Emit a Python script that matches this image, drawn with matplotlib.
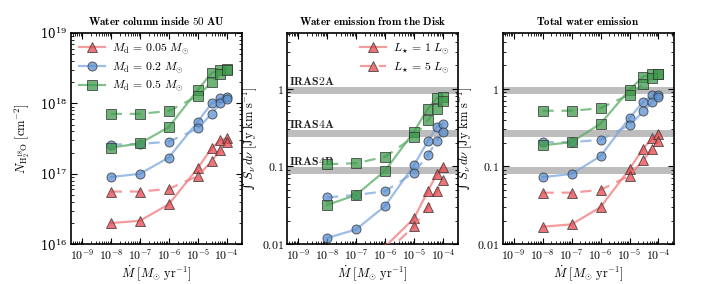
import numpy as np
import matplotlib
matplotlib.use("Agg")
import matplotlib.pyplot as plt
from matplotlib.ticker import LogLocator, NullFormatter, FixedLocator, FixedFormatter

plt.rcParams['mathtext.fontset'] = 'cm'
plt.rcParams['font.family'] = ['DejaVu Serif']

nan = np.nan
mdot = [1e-8, 1e-7, 1e-6, 1e-5, 3e-5, 6e-5, 1e-4]

# Panel 1: water column (cm^-2); solid = L*=1, dashed = L*=5
col_red_L1 = [2.0e16, 2.15e16, 3.7e16, 1.2e17, 2.3e17, 3.0e17, 3.2e17]
col_red_L5 = [5.6e16, 5.6e16, 6.1e16, 0.93e17, 1.5e17, 2.2e17, 2.8e17]
col_blue_L1 = [9.0e16, 1.0e17, 1.7e17, 5.5e17, 1.0e18, 1.18e18, 1.25e18]
col_blue_L5 = [2.6e17, 2.65e17, 2.86e17, 4.4e17, 7.1e17, 1.0e18, 1.17e18]
col_green_L1 = [2.35e17, 2.7e17, 4.6e17, 1.55e18, 2.7e18, 3.0e18, 3.1e18]
col_green_L5 = [7.1e17, 7.1e17, 7.8e17, 1.27e18, 2.0e18, 2.6e18, 3.0e18]

# Panel 2: disk emission (Jy km/s)
disk_red_L1 = [nan, nan, 0.0093, 0.0215, 0.048, 0.079, 0.099]
disk_red_L5 = [nan, nan, 0.0076, 0.017, 0.030, 0.048, 0.066]
disk_blue_L1 = [0.012, 0.0155, 0.031, 0.104, 0.21, 0.32, 0.355]
disk_blue_L5 = [0.040, 0.043, 0.048, 0.083, 0.14, 0.21, 0.28]
disk_green_L1 = [0.032, 0.043, 0.088, 0.28, 0.55, 0.75, 0.79]
disk_green_L5 = [0.107, 0.11, 0.133, 0.24, 0.39, 0.55, 0.69]

# Panel 3: total emission (Jy km/s)
tot_red_L1 = [0.0168, 0.018, 0.030, 0.093, 0.17, 0.23, 0.26]
tot_red_L5 = [0.046, 0.046, 0.050, 0.076, 0.12, 0.17, 0.21]
tot_blue_L1 = [0.073, 0.080, 0.136, 0.42, 0.68, 0.82, 0.83]
tot_blue_L5 = [0.205, 0.205, 0.22, 0.34, 0.51, 0.67, 0.78]
tot_green_L1 = [0.187, 0.205, 0.355, 0.97, 1.43, 1.52, 1.55]
tot_green_L5 = [0.52, 0.52, 0.56, 0.84, 1.14, 1.38, 1.52]

obs_names = ['IRAS2A', 'IRAS4A', 'IRAS4B']
obs_values = [0.97, 0.268, 0.089]

disk_labels = [r'$M_{\rm d}\,=\,0.05\ M_{\odot}$', r'$M_{\rm d}\,=\,0.2\ M_{\odot}$', r'$M_{\rm d}\,=\,0.5\ M_{\odot}$']
lum_labels = [r'$L_{\star}\,=\,1\ L_{\odot}$', r'$L_{\star}\,=\,5\ L_{\odot}$']
titles = [r'$\mathbf{Water\ column\ inside\ 50\ AU}$',
          r'$\mathbf{Water\ emission\ from\ the\ Disk}$',
          r'$\mathbf{Total\ water\ emission}$']

styles = [
    dict(marker='^', mfc='#e8464b', line='#f27a7c'),
    dict(marker='o', mfc='#5b8fd0', line='#7ea7dd'),
    dict(marker='s', mfc='#3f9a4c', line='#5aad66'),
]

fig = plt.figure(figsize=(7.09, 2.84), dpi=100)
W = 0.241
B, H = 0.14, 0.744
axes = [fig.add_axes([0.100, B, W, H]),
        fig.add_axes([0.405, B, W, H]),
        fig.add_axes([0.709, B, W, H])]

panels = [
    [(col_red_L1, col_red_L5), (col_blue_L1, col_blue_L5), (col_green_L1, col_green_L5)],
    [(disk_red_L1, disk_red_L5), (disk_blue_L1, disk_blue_L5), (disk_green_L1, disk_green_L5)],
    [(tot_red_L1, tot_red_L5), (tot_blue_L1, tot_blue_L5), (tot_green_L1, tot_green_L5)],
]

for i, ax in enumerate(axes):
    ax.set_xscale('log')
    ax.set_yscale('log')
    ax.set_xlim(10**-9.38, 10**-3.48)
    if i == 0:
        ax.set_ylim(1e16, 1e19)
    else:
        ax.set_ylim(0.01, 5.2)
        for name, v in zip(obs_names, obs_values):
            ax.axhline(v, color='#bdbdbd', lw=5, zorder=1, solid_capstyle='butt')
            if i == 1:
                ax.text(10**-9.3, v * 1.06, r'$\mathbf{%s}$' % name, fontsize=8.5,
                        ha='left', va='bottom', color='#222222', zorder=2)
    handles_s = []
    for (sl, dl), st in zip(panels[i], styles):
        kw = dict(marker=st['marker'], ms=6.5, mfc=st['mfc'], mec='#333333', mew=0.7,
                  alpha=0.75, zorder=3)
        hs, = ax.plot(mdot, sl, '-', color=st['line'], lw=1.6, **kw)
        hd, = ax.plot(mdot, dl, '--', color=st['line'], lw=1.6, dashes=(5, 3.5), **kw)
        handles_s.append((hs, hd))
    if i == 0:
        ax.legend([h[0] for h in handles_s], disk_labels, loc='upper left', frameon=False,
                  fontsize=8.5, handlelength=2.2, borderaxespad=0.3, labelspacing=0.35,
                  handletextpad=0.6)
    if i == 1:
        ax.legend(list(handles_s[0]), lum_labels, loc='upper right', frameon=False,
                  fontsize=8.5, handlelength=2.2, borderaxespad=0.3, labelspacing=0.35,
                  handletextpad=0.6)

    ax.set_title(titles[i], fontsize=8, pad=6)
    ax.set_xlabel(r'$\dot{M}\ [M_{\odot}\ {\rm yr}^{-1}]$', fontsize=9, labelpad=0)
    if i == 0:
        ax.set_ylabel(r'$N_{\rm H_2^{18}O}\ [{\rm cm}^{-2}]$', fontsize=9, labelpad=6)
    else:
        ax.set_ylabel('\u222b ' + r'$S_{\nu}\, d\nu\ [{\rm Jy\ km\ s}^{-1}]$', fontsize=9, labelpad=2)
        ax.yaxis.set_major_locator(FixedLocator([0.01, 0.1, 1]))
        ax.yaxis.set_major_formatter(FixedFormatter([r'$\mathbf{0.01}$', r'$\mathbf{0.1}$', r'$\mathbf{1}$']))
    ax.xaxis.set_major_locator(FixedLocator([1e-9, 1e-8, 1e-7, 1e-6, 1e-5, 1e-4]))
    ax.xaxis.set_major_formatter(FixedFormatter([r'$10^{-%d}$' % k for k in range(9, 3, -1)]))
    ax.xaxis.set_minor_locator(LogLocator(base=10, subs=np.arange(2, 10), numticks=20))
    ax.xaxis.set_minor_formatter(NullFormatter())
    ax.yaxis.set_minor_locator(LogLocator(base=10, subs=np.arange(2, 10), numticks=20))
    ax.yaxis.set_minor_formatter(NullFormatter())
    ax.tick_params(which='both', direction='in', top=True, right=True, labelsize=8.5)
    ax.tick_params(which='major', length=4, width=0.8, pad=2.5)
    ax.tick_params(which='minor', length=2, width=0.6)
    for s in ax.spines.values():
        s.set_linewidth(1.2)

fig.savefig('out.png', dpi=100)
